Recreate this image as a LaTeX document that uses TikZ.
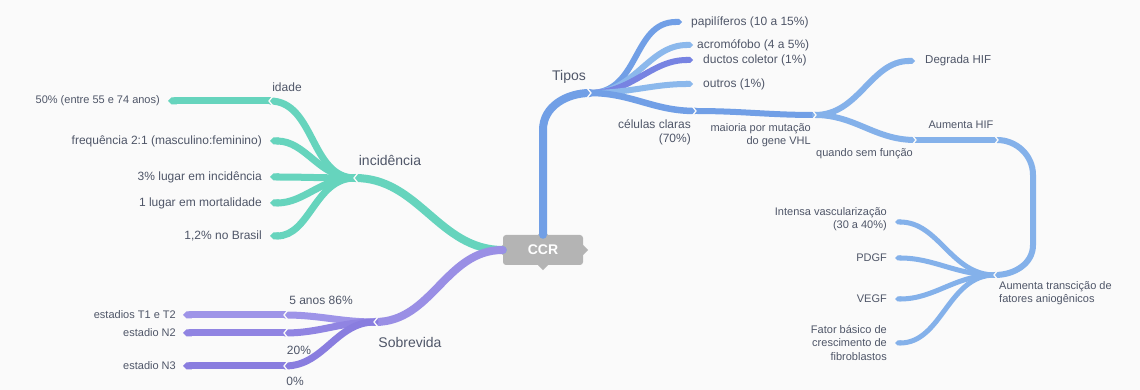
\documentclass[tikz,border=0pt]{standalone}
\usepackage{fontspec}
\setmainfont{Liberation Sans}
\usetikzlibrary{arrows.meta}
\definecolor{bg}{HTML}{FAFAFA}
\definecolor{tealc}{HTML}{66D4BD}
\definecolor{purpA}{HTML}{9A8FE5}
\definecolor{purpB}{HTML}{9E94E8}
\definecolor{purpC}{HTML}{9084E2}
\definecolor{purpD}{HTML}{897DDF}
\definecolor{blueA}{HTML}{719FE6}
\definecolor{blueL}{HTML}{8BB8EC}
\definecolor{blueD}{HTML}{7783E2}
\definecolor{blueR}{HTML}{84B1EA}
\definecolor{ccrgray}{HTML}{B4B4B4}
\definecolor{txt}{HTML}{4F5668}
\begin{document}
\begin{tikzpicture}[x=1pt,y=1pt,
  lbl/.style={font=\fontsize{11}{13.5}\selectfont, inner sep=0pt, text=txt},
  lblb/.style={font=\fontsize{12}{14}\selectfont, inner sep=0pt, text=txt},
  big/.style={font=\fontsize{14}{16}\selectfont, inner sep=0pt, text=txt},
  br/.style={line width=#1, line cap=round},
  leafend/.style={-{Triangle Cap[]}},
  notch/.pic={\draw[bg, line width=1.3pt, line cap=butt, line join=miter] (-3,5) -- (1,0) -- (-3,-5);}]
\fill[bg] (0,0) rectangle (1140,390);
\useasboundingbox (0,0) rectangle (1140,390);

% central node
\node[fill=ccrgray, rounded corners=3pt, minimum width=80pt, minimum height=30pt,
      text=white, font=\bfseries\fontsize{14}{16}\selectfont, inner sep=0pt] (ccr) at (543,140) {CCR};
\fill[ccrgray] (ccr.west) ++(0,5) -- ++(-5,-5) -- ++(5,-5) -- cycle;
\fill[ccrgray] (ccr.east) ++(0,5) -- ++(5,-5) -- ++(-5,-5) -- cycle;
\fill[ccrgray] (ccr.north) ++(-5,0) -- ++(5,5) -- ++(5,-5) -- cycle;
\fill[ccrgray] (ccr.south) ++(-5,0) -- ++(5,-5) -- ++(5,5) -- cycle;

% junction coordinates
\coordinate (tipos) at (590,297);
\coordinate (pap) at (682,368);
\coordinate (acro) at (693,345);
\coordinate (duct) at (693,330);
\coordinate (outr) at (693,306);
\coordinate (cel) at (695,279);
\coordinate (maio) at (815,275);
\coordinate (degr) at (915,329);
\coordinate (quan) at (915,250);
\coordinate (ahif) at (997,250);
\coordinate (atr) at (995,115);
\coordinate (inte) at (895,168);
\coordinate (pdgf) at (895,132);
\coordinate (vegf) at (895,91);
\coordinate (fato) at (895,47);

\coordinate (incid) at (355,212);
\coordinate (idade) at (270,289);
\coordinate (c50) at (168,289);
\coordinate (freq) at (270,249);
\coordinate (tres) at (270,213);
\coordinate (umlu) at (270,187);
\coordinate (bras) at (270,154);

\coordinate (sobr) at (375,68);
\coordinate (cinco) at (285,75);
\coordinate (vinte) at (285,57);
\coordinate (zero) at (285,24);
\coordinate (t1t2) at (183,75);
\coordinate (n2) at (183,57);
\coordinate (n3) at (183,24);

% labels
\node[big] (tiposL) at (569,313) {Tipos};
\node[lblb, anchor=west] (papL) at (691,368) {papilíferos (10 a 15\%)};
\node[lblb, anchor=west] (acroL) at (697,345) {acromófobo (4 a 5\%)};
\node[lblb, anchor=west] (ductL) at (703,330) {ductos coletor (1\%)};
\node[lblb, anchor=west] (outrL) at (703,306) {outros (1\%)};
\node[lblb, anchor=north east, align=right] (celL) at (691,271) {células claras\\(70\%)};
\node[lbl, anchor=north east, align=right] (maioL) at (811,267) {maioria por mutação\\do gene VHL};
\node[lbl, anchor=west, font=\fontsize{11.5}{13.5}\selectfont] (degrL) at (925,329) {Degrada HIF};
\node[lbl, anchor=north east] (quanL) at (913,242) {quando sem função};
\node[lbl] (ahifL) at (961,265) {Aumenta HIF};
\node[lbl, anchor=north west, align=left] (atrL) at (999,109) {Aumenta transcição de\\fatores aniogênicos};
\node[lbl, anchor=east, align=right] (inteL) at (887,171) {Intensa vascularização\\(30 a 40\%)};
\node[lbl, anchor=east] (pdgfL) at (887,132) {PDGF};
\node[lbl, anchor=east] (vegfL) at (887,91) {VEGF};
\node[lbl, anchor=east, align=right] (fatoL) at (887,47) {Fator básico de\\crescimento de\\fibroblastos};

\node[big] (incidL) at (390,230) {incidência};
\node[lblb] (idadeL) at (287,303) {idade};
\node[lbl, anchor=east] (c50L) at (160,289) {50\% (entre 55 e 74 anos)};
\node[lblb, anchor=east] (freqL) at (262,249) {frequência 2:1 (masculino:feminino)};
\node[lblb, anchor=east] (tresL) at (262,213) {3\% lugar em incidência};
\node[lblb, anchor=east] (umluL) at (262,187) {1 lugar em mortalidade};
\node[lblb, anchor=east] (brasL) at (262,154) {1,2\% no Brasil};

\node[big] (sobrL) at (410,48) {Sobrevida};
\node[lblb] (cincoL) at (321,90) {5 anos 86\%};
\node[lblb] (vinteL) at (299,40) {20\%};
\node[lblb] (zeroL) at (295,9) {0\%};
\node[lbl, anchor=east] (t1t2L) at (176,75) {estadios T1 e T2};
\node[lbl, anchor=east] (n2L) at (176,57) {estadio N2};
\node[lbl, anchor=east] (n3L) at (176,24) {estadio N3};

% ---- blue (Tipos) branch
\draw[blueA, br=8] (ccr.north) -- ++(0,105) to[out=90,in=180] (tipos);
\draw[blueA, br=6, leafend] (tipos) to[out=0,in=180,looseness=1.1] (pap);
\draw[blueL, br=6, leafend] (tipos) to[out=0,in=180] (acro);
\draw[blueD, br=6, leafend] (tipos) to[out=0,in=180] (duct);
\draw[blueL, br=6, leafend] (tipos) to[out=0,in=180] (outr);
\draw[blueA, br=6.5] (tipos) to[out=0,in=180] (cel);
\draw[blueA, br=6] (cel) to[out=0,in=180] (maio);
\draw[blueR, br=6, leafend] (maio) to[out=0,in=180] (degr);
\draw[blueR, br=6] (maio) to[out=0,in=180] (quan);
\draw[blueR, br=6] (quan) -- (ahif);
\draw[blueR, br=6] (ahif) to[out=0,in=90] (1033,215) -- (1033,145) to[out=-90,in=0] (atr);
\draw[blueR, br=5, leafend] (atr) to[out=180,in=0] (inte);
\draw[blueR, br=5, leafend] (atr) to[out=180,in=0] (pdgf);
\draw[blueR, br=5, leafend] (atr) to[out=180,in=0] (vegf);
\draw[blueR, br=5, leafend] (atr) to[out=180,in=0] (fato);

% ---- teal (incidencia) branch
\draw[tealc, br=8] (ccr.west) to[out=180,in=0] (incid);
\draw[tealc, br=7] (incid) to[out=180,in=0] (idade);
\draw[tealc, br=7, leafend] (idade) -- (c50);
\draw[tealc, br=7, leafend] (incid) to[out=180,in=0] (freq);
\draw[tealc, br=7, leafend] (incid) to[out=180,in=0] (tres);
\draw[tealc, br=7, leafend] (incid) to[out=180,in=0] (umlu);
\draw[tealc, br=7, leafend] (incid) to[out=180,in=0] (bras);

% ---- purple (Sobrevida) branch
\draw[purpA, br=8] (ccr.west) to[out=180,in=0] (sobr);
\draw[purpB, br=7] (sobr) to[out=180,in=0] (cinco);
\draw[purpC, br=7] (sobr) to[out=180,in=0] (vinte);
\draw[purpD, br=7] (sobr) to[out=180,in=0] (zero);
\draw[purpB, br=7, leafend] (cinco) -- (t1t2);
\draw[purpC, br=7, leafend] (vinte) -- (n2);
\draw[purpD, br=7, leafend] (zero) -- (n3);

% junction notches
\pic at (tipos) {notch};
\pic at (cel) {notch};
\pic at (maio) {notch};
\pic at (quan) {notch};
\pic at (ahif) {notch};
\pic[rotate=180] at (atr) {notch};
\pic[rotate=180] at (incid) {notch};
\pic[rotate=180] at (idade) {notch};
\pic[rotate=180] at (sobr) {notch};
\pic[rotate=180] at (cinco) {notch};
\pic[rotate=180] at (vinte) {notch};
\pic[rotate=180] at (zero) {notch};
\end{tikzpicture}
\end{document}
